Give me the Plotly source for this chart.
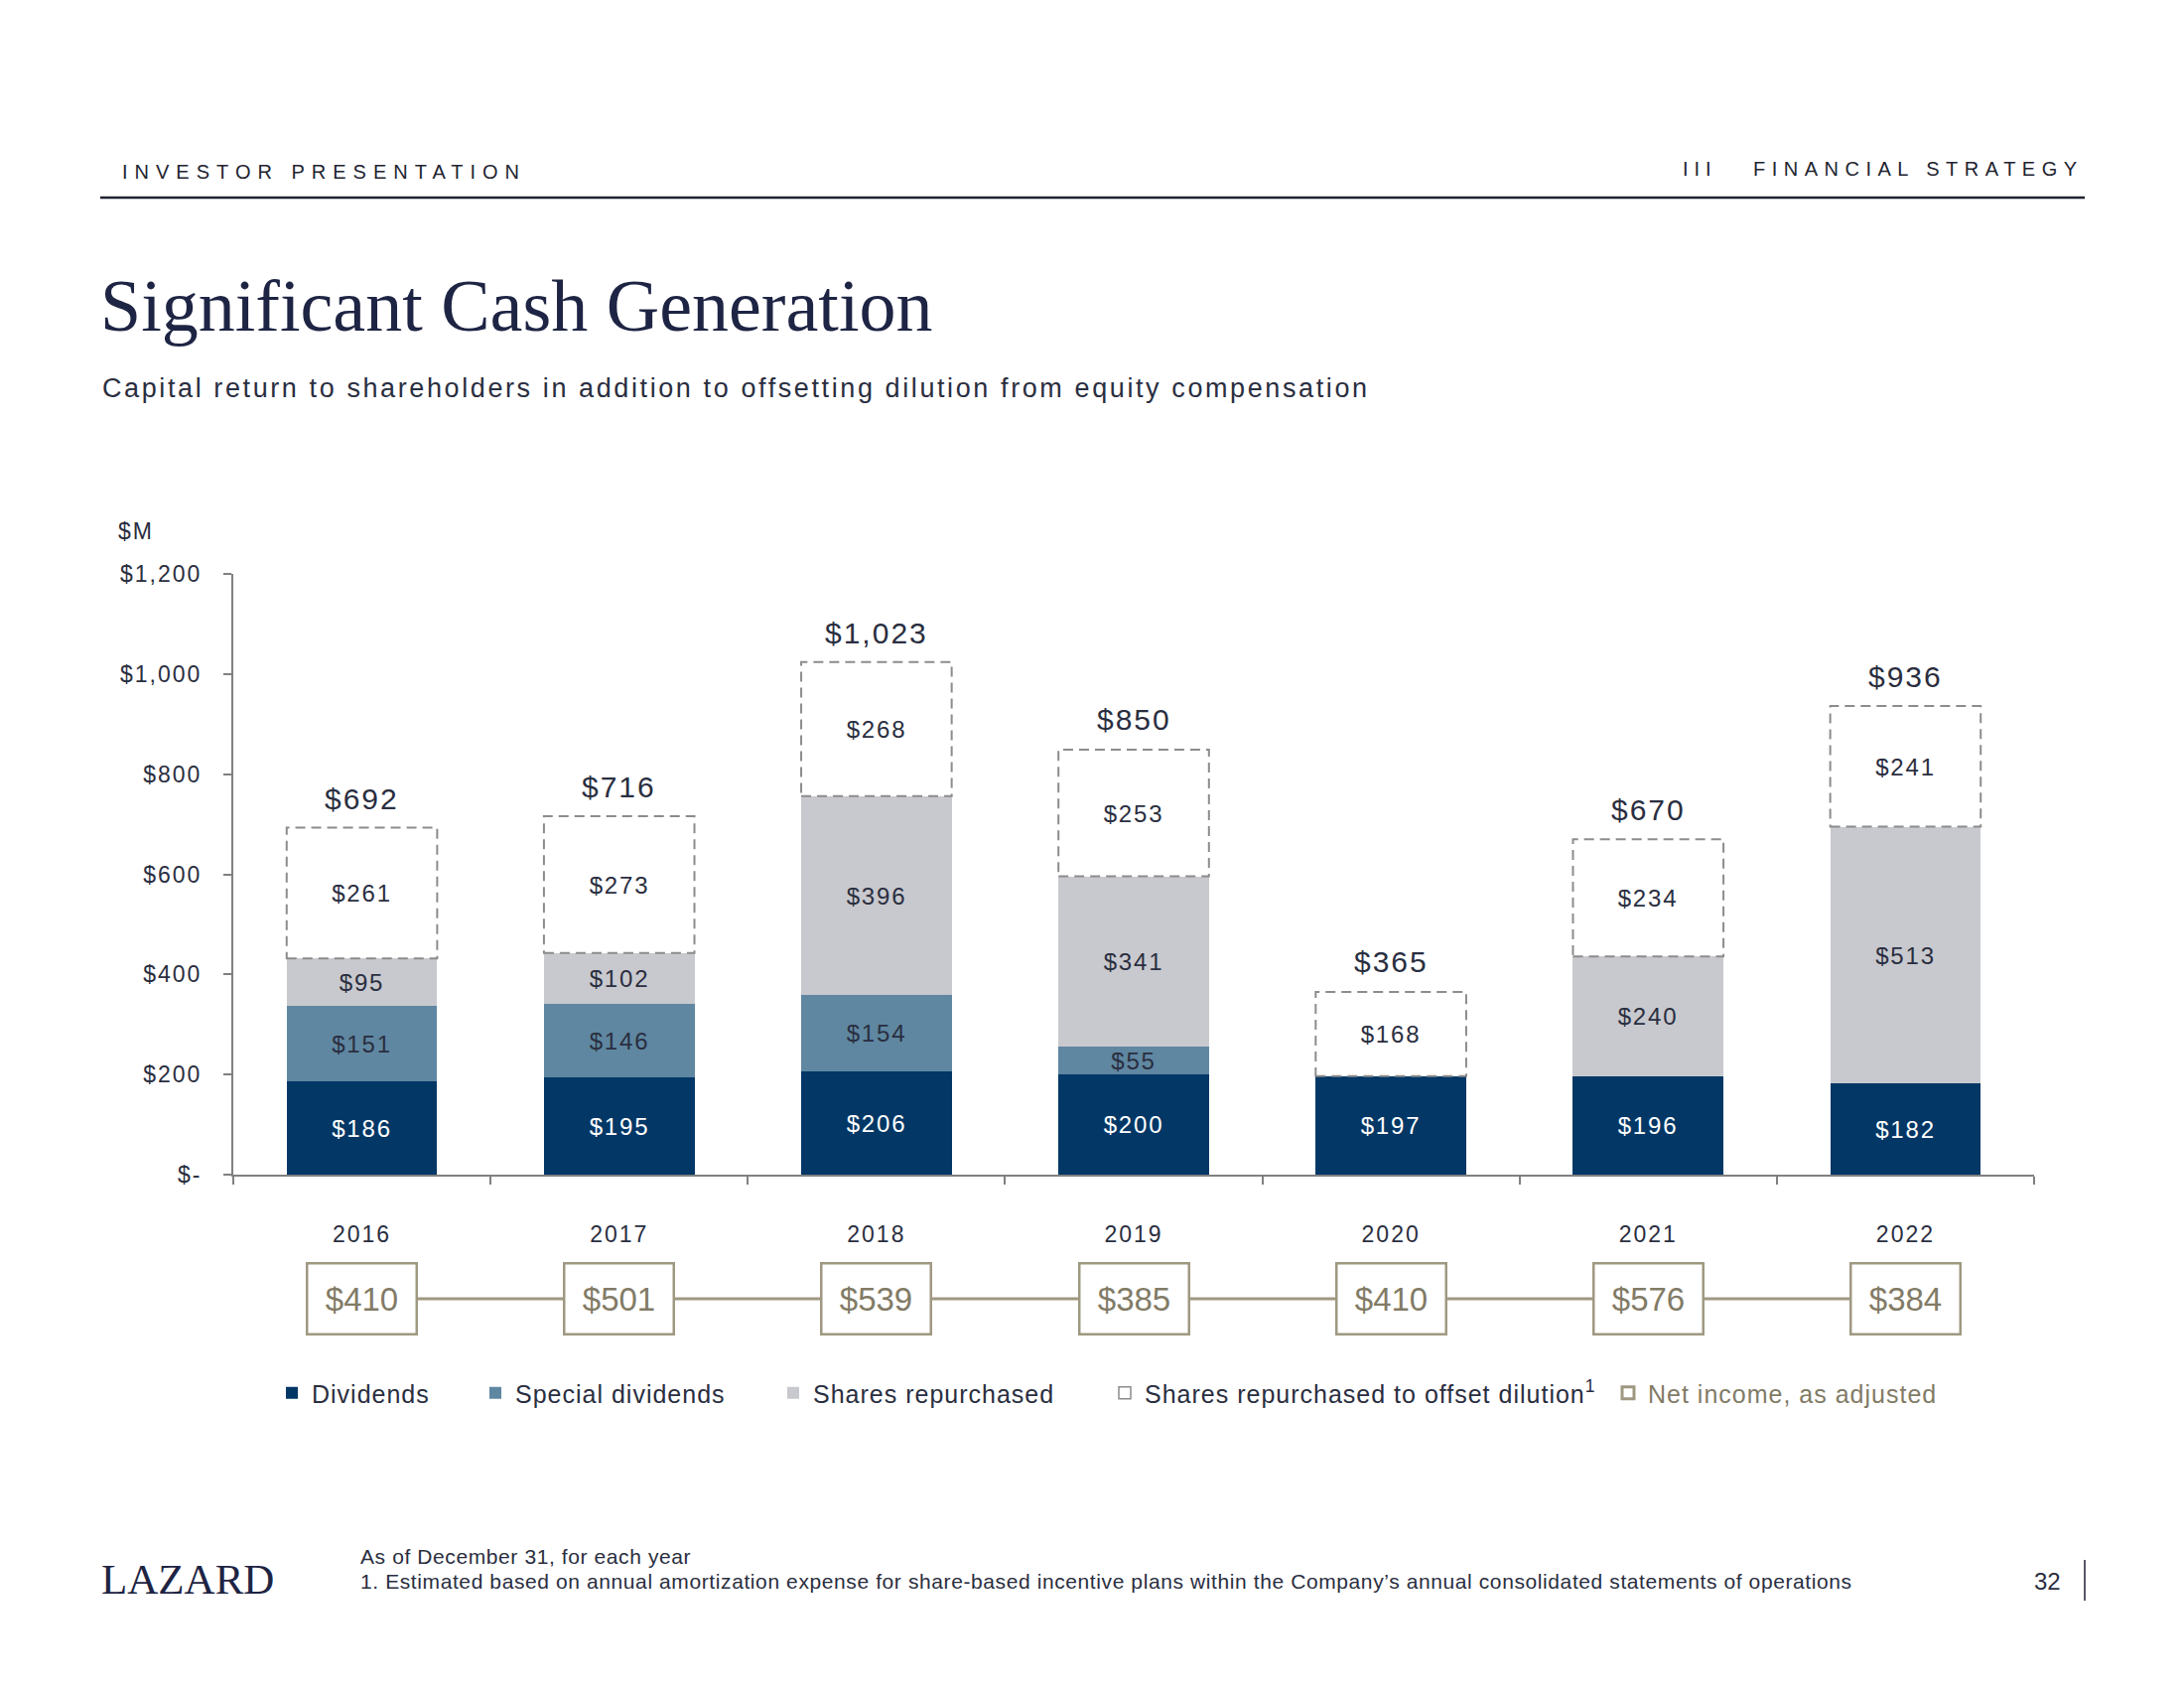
import plotly.graph_objects as go

# ---------------- data ----------------
years = ["2016", "2017", "2018", "2019", "2020", "2021", "2022"]
dividends = [186, 195, 206, 200, 197, 196, 182]
special_dividends = [151, 146, 154, 55, None, None, None]
shares_repurchased = [95, 102, 396, 341, None, 240, 513]
offset_dilution = [261, 273, 268, 253, 168, 234, 241]
totals = [692, 716, 1023, 850, 365, 670, 936]
net_income = [410, 501, 539, 385, 410, 576, 384]
y_ticks = [0, 200, 400, 600, 800, 1000, 1200]
y_tick_labels = ["$-", "$200", "$400", "$600", "$800", "$1,000", "$1,200"]

# ---------------- style ----------------
NAVY = "#023766"
STEEL = "#5f87a1"
LIGHT = "#c8c9ce"
DASH_GRAY = "#8c8c8c"
KHAKI = "#9f9881"
KHAKI_TXT = "#827b66"
DARK = "#2a2e40"
TITLE = "#1e2443"
AXIS = "#808080"
SANS = "Liberation Sans, Arial, sans-serif"
SERIF = "Liberation Serif, Times New Roman, serif"
BAR_W = 0.585

FIG_W, FIG_H = 2200, 1700
L, R, T, B = 235, 2049, 578, 1480
PW, PH = R - L, B - T
AXIS_PX = 1183          # pixel row of the value 0
ROW_TOP, ROW_BOT = 1256, 1360   # net-income row band


def px_x(px):
    return (px - L) / PW


def px_y(py):
    return (B - py) / PH


def ls(t, s):
    return f'<span style="letter-spacing:{s}px">{t}</span>'


def lbl(vals, s=1.8):
    return [ls(f"${v:,}", s) if v else "" for v in vals]


fig = go.Figure()

seg_font = dict(family=SANS, size=24, color=DARK)

fig.add_trace(go.Bar(
    x=years, y=dividends, name=ls("Dividends", 1), width=BAR_W,
    marker=dict(color=NAVY, line=dict(width=0)),
    text=lbl(dividends), textposition="inside", insidetextanchor="middle",
    textfont=dict(family=SANS, size=24, color="white"),
    hoverinfo="skip", legendwidth=160))
fig.add_trace(go.Bar(
    x=years, y=special_dividends, name=ls("Special dividends", 1), width=BAR_W,
    marker=dict(color=STEEL, line=dict(width=0)),
    text=lbl(special_dividends), textposition="inside", insidetextanchor="middle",
    textfont=seg_font, hoverinfo="skip", legendwidth=255))
fig.add_trace(go.Bar(
    x=years, y=shares_repurchased, name=ls("Shares repurchased", 1), width=BAR_W,
    marker=dict(color=LIGHT, line=dict(width=0)),
    text=lbl(shares_repurchased), textposition="inside", insidetextanchor="middle",
    textfont=seg_font, hoverinfo="skip", legendwidth=289))
fig.add_trace(go.Bar(
    x=years, y=offset_dilution, name="dilution", width=BAR_W, showlegend=False,
    marker=dict(color="white", line=dict(width=0)),
    text=lbl(offset_dilution), textposition="inside", insidetextanchor="middle",
    textfont=seg_font, hoverinfo="skip"))
# legend entry for the dashed segment
fig.add_trace(go.Bar(
    x=[None], y=[None], name=ls("Shares repurchased to offset dilution", 1) + "<sup>1</sup>",
    marker=dict(color="white", line=dict(color=DASH_GRAY, width=1.5)),
    hoverinfo="skip", legendwidth=462))

# net income row (second axis below the chart)
fig.add_trace(go.Scatter(
    x=years, y=[0.5] * len(years), yaxis="y2", mode="lines",
    line=dict(color=KHAKI, width=3), showlegend=False, hoverinfo="skip"))
fig.add_trace(go.Scatter(
    x=[None], y=[None], yaxis="y2", mode="markers",
    name=f'<span style="color:{KHAKI_TXT};letter-spacing:1px">Net income, as adjusted</span>',
    marker=dict(symbol="square-open", size=12, color=KHAKI, line=dict(width=3, color=KHAKI)),
    hoverinfo="skip", legendwidth=320))

shapes = []
annotations = []

# dashed outlines for the offset-dilution segment
for i in range(len(years)):
    base = dividends[i] + (special_dividends[i] or 0) + (shares_repurchased[i] or 0)
    shapes.append(dict(
        type="rect", xref="x", yref="y",
        x0=i - BAR_W / 2, x1=i + BAR_W / 2, y0=base, y1=base + offset_dilution[i],
        line=dict(color=DASH_GRAY, width=2, dash="10px,6px"), fillcolor="rgba(0,0,0,0)",
        layer="above"))

# totals on top
for i, tot in enumerate(totals):
    annotations.append(dict(
        x=i, y=tot, xref="x", yref="y", yshift=30, showarrow=False,
        text=ls(f"${tot:,}", 2), yanchor="middle",
        font=dict(family=SANS, size=30, color=DARK)))

# net income boxes
for i, ni in enumerate(net_income):
    annotations.append(dict(
        x=i, y=0.5, xref="x", yref="y2", showarrow=False,
        text=f"${ni}", width=108, height=69, borderpad=0,
        bordercolor=KHAKI, borderwidth=2.5, bgcolor="white",
        font=dict(family=SANS, size=33, color=KHAKI_TXT)))


# page furniture
def page_text(text, px, py, size, color=DARK, family=SANS, anchor="left"):
    annotations.append(dict(
        x=px_x(px), y=px_y(py), xref="paper", yref="paper", showarrow=False,
        text=text, xanchor=anchor, yanchor="middle", align=anchor,
        font=dict(family=family, size=size, color=color)))


page_text(ls("INVESTOR PRESENTATION", 7), 121, 173, 20, "#222430")
page_text(ls("III", 6), 1693, 170, 20, "#222430")
page_text(ls("FINANCIAL STRATEGY", 6.5), 2101, 170, 20, "#222430", anchor="right")
page_text("Significant Cash Generation", 99, 308, 74, TITLE, SERIF)
page_text(ls("Capital return to shareholders in addition to offsetting dilution from equity compensation", 2.6),
          101, 391, 27, DARK)
page_text(ls("$M", 2), 117, 535, 23, DARK)
page_text("LAZARD", 100, 1590, 43, TITLE, SERIF)
page_text(ls("As of December 31, for each year", 0.6), 361, 1567, 21, DARK)
page_text(ls("1. Estimated based on annual amortization expense for share-based incentive plans "
             "within the Company\u2019s annual consolidated statements of operations", 0.6),
          361, 1592, 21, DARK)
page_text("32", 2062, 1592, 24, DARK, anchor="center")

shapes.append(dict(type="line", xref="paper", yref="paper",
                   x0=px_x(101), x1=px_x(2100), y0=px_y(199), y1=px_y(199),
                   line=dict(color="#1f2230", width=2.5)))
shapes.append(dict(type="line", xref="paper", yref="paper",
                   x0=px_x(2100), x1=px_x(2100), y0=px_y(1571), y1=px_y(1612),
                   line=dict(color="#1f2230", width=1.5)))

fig.update_layout(
    width=FIG_W, height=FIG_H, autosize=False,
    margin=dict(l=L, r=FIG_W - R, t=T, b=FIG_H - B, pad=0),
    paper_bgcolor="white", plot_bgcolor="white",
    barmode="stack", bargap=0,
    font=dict(family=SANS, color=DARK),
    xaxis=dict(type="category", anchor="y", showline=True, linecolor=AXIS, linewidth=2,
               ticks="outside", tickson="boundaries", ticklen=8, tickcolor=AXIS, tickwidth=2,
               tickvals=years, ticktext=[ls(y, 2) for y in years],
               tickfont=dict(family=SANS, size=23, color=DARK), ticklabelstandoff=38,
               showgrid=False, zeroline=False, range=[-0.5, len(years) - 0.5],
               fixedrange=True, automargin=False),
    yaxis=dict(domain=[px_y(AXIS_PX), 1], range=[0, 1200], showline=True, linecolor=AXIS,
               linewidth=2, ticks="outside", ticklen=8, tickcolor=AXIS, tickwidth=2,
               tickvals=y_ticks, ticktext=[ls(t, 2) for t in y_tick_labels],
               tickfont=dict(family=SANS, size=23, color=DARK), ticklabelstandoff=17,
               showgrid=False, zeroline=False, fixedrange=True, automargin=False),
    yaxis2=dict(domain=[px_y(ROW_BOT), px_y(ROW_TOP)], range=[0, 1], visible=False,
                anchor="x", fixedrange=True, automargin=False),
    legend=dict(orientation="h", xref="paper", yref="paper",
                x=px_x(274), y=px_y(1403), xanchor="left", yanchor="middle",
                font=dict(family=SANS, size=25, color=DARK), traceorder="normal",
                bgcolor="rgba(0,0,0,0)", itemclick=False, itemdoubleclick=False),
    uniformtext=dict(minsize=24, mode="show"),
    shapes=shapes, annotations=annotations,
    showlegend=True,
)

fig.write_html("out.html", config={"displayModeBar": False},
               post_script="document.body.style.margin='0';document.body.style.overflow='hidden';")
